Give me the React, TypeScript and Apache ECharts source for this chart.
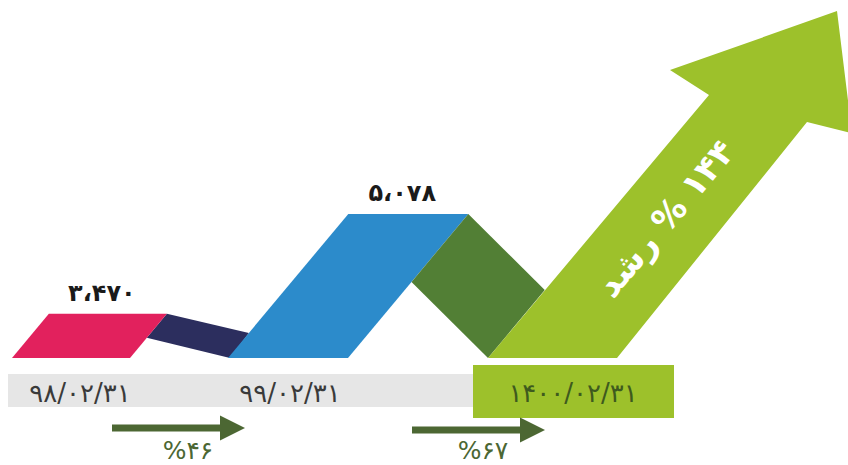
import React, { useEffect, useRef } from "react";
import * as echarts from "echarts";

// ---------------- data ----------------
const periods = ["۹۸/۰۲/۳۱", "۹۹/۰۲/۳۱", "۱۴۰۰/۰۲/۳۱"];
const amounts = [3470, 5078];
const arrowLevel = 8470; // estimated level reached by the growth arrow
const stepGrowth = [46, 67];
const totalGrowth = 144;
const growthWord = "رشد";

// ---------------- axis scale ----------------
const Y_MIN = 2760;
const Y_MAX = 8520;
const X_MIN = 0;
const X_MAX = 848;

// ---------------- layout (px) ----------------
const SLANT = 0.835;
const pinkX = 12;
const pinkW = 118;
const blueX = 228;
const blueW = 120;
const arrowX = 488;
const arrowW = 129;
const navyThick = 24;
const greenDepth = 68;
const tipX = 837;
const tipInset = 8;
const headLeftWing = [-167, 59];
const headLeftNotch = [-128, 84];
const headRightNotch = [-30, 111];
const headRightWing = [15, 122];
const labelDx = -6;
const labelDy = -21;

const barRect = { x: 8, y: 374, w: 466, h: 33 };
const boxRect = { x: 473, y: 365, w: 201, h: 53 };
const dateX = [80, 290, 573];
const dateY = 393;
const growthArrows = [
  { x0: 112, x1: 220, x2: 245, y: 428, lx: 188, ly: 450 },
  { x0: 412, x1: 520, x2: 545, y: 430, lx: 483, ly: 450 },
];

// ---------------- colors ----------------
const C_PINK = "#E2215D";
const C_NAVY = "#2C2E5E";
const C_BLUE = "#2C8BCB";
const C_DKGREEN = "#527F35";
const C_LTGREEN = "#9DC12B";
const C_BAR = "#E6E6E6";
const C_DATE = "#3a3a3a";
const C_DATE3 = "#3E5A1E";
const C_SMALL = "#4C6733";
const FONT = "'DejaVu Sans', 'Noto Sans', sans-serif";

const faDigits = "۰۱۲۳۴۵۶۷۸۹";
const toFa = (s: string) => s.replace(/\d/g, (d) => faDigits[+d]);
const fmtAmount = (n: number) =>
  toFa(String(n).replace(/\B(?=(\d{3})+(?!\d))/g, "،"));

export default function App() {
  const ref = useRef<HTMLDivElement>(null);

  useEffect(() => {
    if (!ref.current) return;
    const chart = echarts.init(ref.current, undefined, { renderer: "svg" });

    const shapeData = [...amounts.map((v, i) => [i, v]), [amounts.length, arrowLevel]];

    const valueLabel = (x: number, y: number, v: number) => ({
      type: "text",
      x,
      y,
      style: {
        text: fmtAmount(v),
        fill: "#1a1a1a",
        fontSize: 24,
        fontWeight: "bold",
        fontFamily: FONT,
        align: "center",
        verticalAlign: "middle",
      },
    });

    const renderShapes = (params: any, api: any) => {
      const idx = params.dataIndex;
      const v = api.value(1);
      const yB = api.coord([0, Y_MIN])[1];
      const yT = api.coord([0, v])[1];
      const children: any[] = [];
      if (idx === 0) {
        const xL = api.coord([pinkX, Y_MIN])[0];
        const xR = api.coord([pinkX + pinkW, Y_MIN])[0];
        const s = SLANT * (yB - yT);
        const bL = api.coord([blueX, Y_MIN])[0];
        children.push({
          type: "polygon",
          shape: {
            points: [
              [xR + s, yT],
              [bL + SLANT * 25, yB - 25],
              [bL + 2, yB],
              [xR + SLANT * (yB - yT - navyThick), yT + navyThick],
            ],
          },
          style: { fill: C_NAVY },
        });
        children.push({
          type: "polygon",
          shape: { points: [[xL, yB], [xR, yB], [xR + s, yT], [xL + s, yT]] },
          style: { fill: C_PINK },
        });
        children.push(valueLabel((xL + xR) / 2 + s + labelDx, yT + labelDy, v));
      } else if (idx === 1) {
        const xL = api.coord([blueX, Y_MIN])[0];
        const xR = api.coord([blueX + blueW, Y_MIN])[0];
        const s = SLANT * (yB - yT);
        const aL = api.coord([arrowX, Y_MIN])[0];
        children.push({
          type: "polygon",
          shape: { points: [[xL, yB], [xR, yB], [xR + s, yT], [xL + s, yT]] },
          style: { fill: C_BLUE },
        });
        const A = [xR + s, yT];
        const B = [xR + SLANT * (yB - yT - greenDepth), yT + greenDepth];
        const Cp = [aL, yB];
        const D = [A[0] + (Cp[0] - B[0]), A[1] + (Cp[1] - B[1])];
        children.push({
          type: "polygon",
          shape: { points: [A, B, Cp, D] },
          style: { fill: C_DKGREEN },
        });
        children.push(valueLabel((xL + xR) / 2 + s + labelDx, yT + labelDy, v));
      } else {
        const aL = api.coord([arrowX, Y_MIN])[0];
        const aR = api.coord([arrowX + arrowW, Y_MIN])[0];
        const tx = api.coord([tipX, v])[0];
        const ty = yT + tipInset;
        const ln = [tx + headLeftNotch[0], ty + headLeftNotch[1]];
        const lw = [tx + headLeftWing[0], ty + headLeftWing[1]];
        const rn = [tx + headRightNotch[0], ty + headRightNotch[1]];
        const rw = [tx + headRightWing[0], ty + headRightWing[1]];
        children.push({
          type: "polygon",
          shape: { points: [[aL, yB], [aR, yB], rn, rw, [tx, ty], lw, ln] },
          style: { fill: C_LTGREEN },
        });
        const bc = [(aL + aR) / 2, yB];
        const tc = [(ln[0] + rn[0]) / 2, (ln[1] + rn[1]) / 2];
        const t = 0.56;
        const ang = Math.atan2(yB - ln[1], ln[0] - aL);
        children.push({
          type: "text",
          x: bc[0] + (tc[0] - bc[0]) * t - 2,
          y: bc[1] + (tc[1] - bc[1]) * t,
          rotation: ang,
          style: {
            text: growthWord + "\u200E % " + toFa(String(totalGrowth)),
            fill: "#ffffff",
            fontSize: 34,
            fontWeight: "bold",
            fontFamily: FONT,
            align: "center",
            verticalAlign: "middle",
          },
        });
      }
      return { type: "group", children };
    };

    const renderDates = (params: any, api: any) => {
      const i = params.dataIndex;
      const children: any[] = [];
      if (i === 0) {
        children.push({
          type: "rect",
          shape: { x: barRect.x, y: barRect.y, width: barRect.w, height: barRect.h },
          style: { fill: C_BAR },
        });
      }
      const last = i === periods.length - 1;
      if (last) {
        children.push({
          type: "rect",
          shape: { x: boxRect.x, y: boxRect.y, width: boxRect.w, height: boxRect.h },
          style: { fill: C_LTGREEN },
        });
      }
      children.push({
        type: "text",
        x: dateX[i],
        y: dateY,
        style: {
          text: periods[i],
          fill: last ? C_DATE3 : C_DATE,
          fontSize: 26,
          fontFamily: FONT,
          align: "center",
          verticalAlign: "middle",
        },
      });
      return { type: "group", children };
    };

    const renderGrowth = (params: any, api: any) => {
      const i = params.dataIndex;
      const g = growthArrows[i];
      const val = api.value(1);
      return {
        type: "group",
        children: [
          {
            type: "rect",
            shape: { x: g.x0, y: g.y - 3.5, width: g.x1 - g.x0, height: 7 },
            style: { fill: C_SMALL },
          },
          {
            type: "polygon",
            shape: { points: [[g.x1, g.y - 12.5], [g.x2, g.y], [g.x1, g.y + 12.5]] },
            style: { fill: C_SMALL },
          },
          {
            type: "text",
            x: g.lx,
            y: g.ly,
            style: {
              text: "%" + toFa(String(val)),
              fill: C_SMALL,
              fontSize: 25,
              fontFamily: FONT,
              align: "center",
              verticalAlign: "middle",
            },
          },
        ],
      };
    };

    chart.setOption({
      animation: false,
      backgroundColor: "#ffffff",
      grid: { left: 0, right: 0, top: 0, bottom: 107, containLabel: false },
      xAxis: { type: "value", min: X_MIN, max: X_MAX, show: false },
      yAxis: { type: "value", min: Y_MIN, max: Y_MAX, show: false },
      series: [
        {
          type: "custom",
          renderItem: renderDates,
          data: periods.map((_, i) => [i, Y_MIN]),
          clip: false,
          silent: true,
        },
        {
          type: "custom",
          renderItem: renderShapes,
          data: shapeData,
          clip: false,
          silent: true,
        },
        {
          type: "custom",
          renderItem: renderGrowth,
          data: stepGrowth.map((g, i) => [i, g]),
          clip: false,
          silent: true,
        },
      ],
    });

    return () => chart.dispose();
  }, []);

  return (
    <div
      ref={ref}
      style={{ position: "fixed", left: 0, top: 0, width: 848, height: 465, background: "#fff" }}
    />
  );
}
